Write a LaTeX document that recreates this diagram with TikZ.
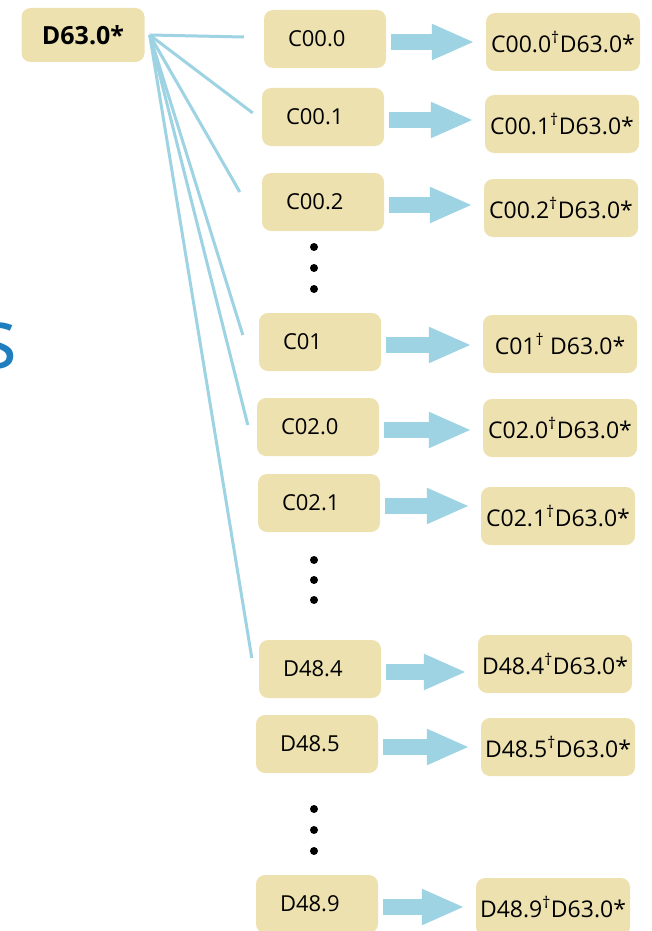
\documentclass[tikz,border=0pt]{standalone}
\usepackage{fontspec}
\setmainfont{Open Sans}
\usepackage{xcolor}
\usetikzlibrary{arrows.meta,calc}

\definecolor{boxfill}{RGB}{237,225,176}
\definecolor{linkblue}{RGB}{157,211,227}
\definecolor{titleblue}{RGB}{30,126,192}
\newcommand{\dg}{\textsuperscript{†}}

\tikzset{
    code/.style={fill=boxfill, rounded corners=9pt, minimum height=58pt, inner sep=0pt, font=\fontsize{22}{26}\selectfont},
    midcode/.style={code, text width=74pt, inner xsep=24pt, align=left, minimum width=122pt},
    paircode/.style={code, minimum width=154pt, align=center, font=\fontsize{23}{27}\selectfont},
    link/.style={linkblue, line width=3pt},
    fatarrow/.style={linkblue, line width=16pt, -{Triangle[width=33pt,length=43pt]}, shorten <=5pt, shorten >=11pt},
}

\begin{document}
\begin{tikzpicture}[x=1pt, y=-1pt]
        \useasboundingbox (0,0) rectangle (651,931);
        \node[text=titleblue, font=\fontsize{84}{90}\selectfont, anchor=base east, inner sep=0pt] (title) at (18,368) {s};
        \node[code, font=\bfseries\fontsize{25}{29}\selectfont, minimum width=123pt, minimum height=54pt] (d630) at (83,35) {D63.0*};
        \coordinate (hub) at ([xshift=5pt]d630.east);
        % codes
        \node[midcode] (c000) at (325,39)  {C00.0};
        \node[midcode] (c001) at (323,117) {C00.1};
        \node[midcode] (c002) at (323,202) {C00.2};
        \node[midcode] (c01)  at (320,342) {C01};
        \node[midcode] (c020) at (318,427) {C02.0};
        \node[midcode] (c021) at (319,503) {C02.1};
        \node[midcode] (d484) at (320,669) {D48.4};
        \node[midcode] (d485) at (317,744) {D48.5};
        \node[midcode] (d489) at (317,904) {D48.9};
        % dagger-asterisk pairs
        \node[paircode] (r000) at (563,42)  {C00.0\dg D63.0*};
        \node[paircode] (r001) at (562,124) {C00.1\dg D63.0*};
        \node[paircode] (r002) at (561,208) {C00.2\dg D63.0*};
        \node[paircode] (r01)  at (560,344) {C01\dg{} D63.0*};
        \node[paircode] (r020) at (560,428) {C02.0\dg D63.0*};
        \node[paircode] (r021) at (558,516) {C02.1\dg D63.0*};
        \node[paircode] (r484) at (555,664) {D48.4\dg D63.0*};
        \node[paircode] (r485) at (558,747) {D48.5\dg D63.0*};
        \node[paircode] (r489) at (553,907) {D48.9\dg D63.0*};
        % links from the asterisk code
        \foreach \n/\dx/\dy in {c000/-20/-2, c001/-9/-4, c002/-22/-10, c01/-16/-7, c020/-9/-2, d484/-7/-11}
            \draw[link] (hub) -- ([shift={(\dx,\dy)}]\n.west);
        \foreach \m/\r in {c000/r000, c001/r001, c002/r002, c01/r01, c020/r020, c021/r021, d484/r484, d485/r485, d489/r489}
            \draw[fatarrow] ([yshift=-3pt]\m.east) -- ([yshift=-3pt]\m.east -| \r.west);
        % vertical ellipses
        \foreach \y in {247,268,289,560,580,600,809,830,851}
            \fill (314,\y) circle (4pt);
\end{tikzpicture}
\end{document}
